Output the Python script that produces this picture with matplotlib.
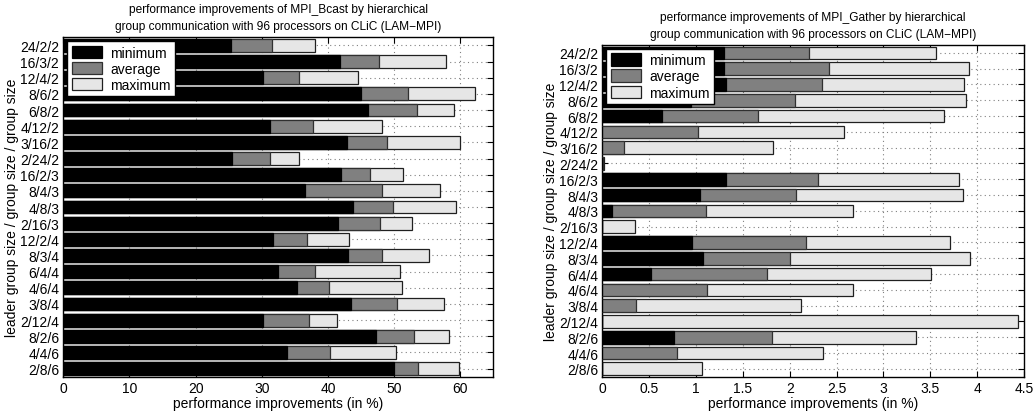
import matplotlib
matplotlib.use("Agg")
import matplotlib.pyplot as plt

plt.rcParams['font.family'] = ['Liberation Sans', 'DejaVu Sans']

configs = ['24/2/2', '16/3/2', '12/4/2', '8/6/2', '6/8/2', '4/12/2', '3/16/2',
           '2/24/2', '16/2/3', '8/4/3', '4/8/3', '2/16/3', '12/2/4', '8/3/4',
           '6/4/4', '4/6/4', '3/8/4', '2/12/4', '8/2/6', '4/4/6', '2/8/6']

# MPI_Bcast (in %)
bcast_min = [25.3, 41.8, 30.2, 45.0, 46.1, 31.3, 42.9, 25.5, 42.0, 36.6, 43.8,
             41.5, 31.7, 43.1, 32.4, 35.4, 43.5, 30.2, 47.2, 33.8, 50.0]
bcast_avg = [31.6, 47.7, 35.6, 52.1, 53.5, 37.8, 48.9, 31.3, 46.3, 48.2, 49.9,
             47.9, 36.9, 48.1, 38.1, 40.2, 50.5, 37.2, 53.0, 40.3, 53.6]
bcast_max = [38.0, 57.8, 44.5, 62.3, 59.1, 48.2, 60.0, 35.6, 51.4, 57.0, 59.4,
             52.7, 43.2, 55.3, 50.9, 51.2, 57.5, 41.4, 58.3, 50.3, 59.8]

# MPI_Gather (in %)
gather_min = [1.30, 1.30, 1.32, 0.95, 0.64, 0.0, 0.0, 0.0, 1.32, 1.04, 0.10,
              0.0, 0.96, 1.07, 0.52, 0.0, 0.0, 0.0, 0.76, 0.0, 0.0]
gather_avg = [2.21, 2.42, 2.34, 2.06, 1.66, 1.02, 0.23, 0.01, 2.30, 2.07, 1.11,
              0.0, 2.17, 2.00, 1.76, 1.12, 0.36, 0.0, 1.81, 0.80, 0.0]
gather_max = [3.56, 3.91, 3.86, 3.88, 3.65, 2.58, 1.82, 0.02, 3.81, 3.85, 2.68,
              0.35, 3.71, 3.92, 3.51, 2.68, 2.12, 4.44, 3.35, 2.36, 1.06]


def draw(ax, mins, avgs, maxs, title, xmax, xticks, xticklabels):
    pos = range(len(configs))
    ax.barh(pos, maxs, height=0.8, color='#e6e6e6', edgecolor='#202020',
            linewidth=0.9, label='maximum', zorder=2)
    ax.barh(pos, avgs, height=0.8, color='#808080', edgecolor='#303030',
            linewidth=0.9, label='average', zorder=3)
    ax.barh(pos, mins, height=0.8, color='black', edgecolor='black',
            linewidth=0.9, label='minimum', zorder=4)
    ax.set_yticks(list(pos))
    ax.set_yticklabels(configs, fontsize=10)
    ax.set_ylim(len(configs) - 0.5, -0.5)
    ax.set_xlim(0, xmax)
    ax.set_xticks(xticks)
    ax.set_xticklabels(xticklabels, fontsize=10)
    ax.grid(True, linestyle=(0, (1, 3)), color='#808080', linewidth=0.8, zorder=0)
    ax.set_axisbelow(True)
    ax.tick_params(direction='in', top=True, right=True, length=4, pad=3)
    for s in ax.spines.values():
        s.set_linewidth(1.0)
    ax.set_xlabel('performance improvements (in %)', fontsize=10, labelpad=1)
    ax.set_ylabel('leader group size / group size / group size', fontsize=10,
                  labelpad=1)
    ax.set_title(title, fontsize=8.6, linespacing=1.5, pad=6)
    h, l = ax.get_legend_handles_labels()
    leg = ax.legend(h[::-1], l[::-1], loc='upper left', fontsize=10,
                    fancybox=False, framealpha=1, edgecolor='black',
                    handlelength=2.2, handleheight=1.0, labelspacing=0.15,
                    borderpad=0.3, borderaxespad=0.3, handletextpad=0.6)
    leg.get_frame().set_linewidth(1.0)


fig = plt.figure(figsize=(10.34, 4.14), dpi=100)
ax1 = fig.add_axes([63.3 / 1034, 1 - 377.7 / 414, 430 / 1034, 339.4 / 414])
ax2 = fig.add_axes([602.3 / 1034, 1 - 377.7 / 414, 421.7 / 1034, 331.7 / 414])

draw(ax1, bcast_min, bcast_avg, bcast_max,
     'performance improvements of MPI_Bcast by hierarchical\n'
     'group communication with 96 processors on CLiC (LAM\u2212MPI)',
     65, range(0, 61, 10), [str(v) for v in range(0, 61, 10)])
gx = [0, 0.5, 1, 1.5, 2, 2.5, 3, 3.5, 4, 4.5]
draw(ax2, gather_min, gather_avg, gather_max,
     'performance improvements of MPI_Gather by hierarchical\n'
     'group communication with 96 processors on CLiC (LAM\u2212MPI)',
     4.5, gx, ['0', '0.5', '1', '1.5', '2', '2.5', '3', '3.5', '4', '4.5'])

fig.savefig('out.png', dpi=100)
